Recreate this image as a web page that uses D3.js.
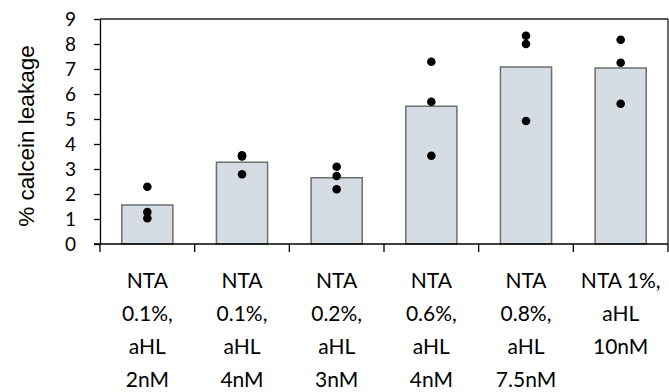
<!DOCTYPE html>
<html lang="en">
<head>
    <meta charset="UTF-8">
    <title>Calcein leakage</title>
    <style>
        body {
            margin: 0;
            background: #ffffff;
        }
        svg {
            display: block;
            background: #ffffff;
        }
        .tick-label {
            font-family: Lato, 'Open Sans', sans-serif;
            fill: #000;
        }
    </style>
</head>
<body>
    <svg width="669" height="392"></svg>
    <script src="https://d3js.org/d3.v7.min.js"></script>
    <script>
        // Data
        var categories = [
            "NTA\n0.1%,\naHL\n2nM",
            "NTA\n0.1%,\naHL\n4nM",
            "NTA\n0.2%,\naHL\n3nM",
            "NTA\n0.6%,\naHL\n4nM",
            "NTA\n0.8%,\naHL\n7.5nM",
            "NTA 1%,\naHL\n10nM"
        ];
        var barValues = [1.56, 3.27, 2.65, 5.51, 7.08, 7.04];
        var pointValues = [
            [2.29, 1.28, 1.03],
            [3.55, 3.5, 2.79],
            [3.09, 2.72, 2.19],
            [7.29, 5.69, 3.53],
            [8.33, 8.0, 4.92],
            [8.17, 7.25, 5.61]
        ];
        var yTicks = [0, 1, 2, 3, 4, 5, 6, 7, 8, 9];

        var svg = d3.select("svg"),
            margin = {top: 19, right: 1, bottom: 148, left: 100},
            width = +svg.attr("width") - margin.left - margin.right,
            height = +svg.attr("height") - margin.top - margin.bottom;

        var x = d3.scaleBand()
            .domain(d3.range(categories.length))
            .range([0, width])
            .paddingInner(0.46)
            .paddingOuter(0.23);

        var y = d3.scaleLinear().domain([0, 9]).range([height, 0]);

        var g = svg.append("g")
            .attr("transform", "translate(" + margin.left + "," + margin.top + ")");

        // plot border (top and right)
        g.append("line")
            .attr("x1", 0).attr("x2", width)
            .attr("y1", 0).attr("y2", 0)
            .attr("stroke", "#222").attr("stroke-width", 1.3);
        g.append("line")
            .attr("x1", width).attr("x2", width)
            .attr("y1", 0).attr("y2", height)
            .attr("stroke", "#222").attr("stroke-width", 1.3);

        // bars
        g.selectAll(".bar")
            .data(barValues)
            .enter().append("rect")
            .attr("class", "bar")
            .attr("x", function(d, i) { return x(i); })
            .attr("y", function(d) { return y(d); })
            .attr("width", x.bandwidth())
            .attr("height", function(d) { return height - y(d); })
            .attr("fill", "#d6dce4")
            .attr("stroke", "#6e6e6e")
            .attr("stroke-width", 1.5);

        // individual points
        pointValues.forEach(function(vals, i) {
            g.selectAll(".dot" + i)
                .data(vals)
                .enter().append("circle")
                .attr("cx", x(i) + x.bandwidth() / 2)
                .attr("cy", function(d) { return y(d); })
                .attr("r", 4.3)
                .attr("fill", "#000");
        });

        // y axis
        var yAxis = g.append("g")
            .call(d3.axisLeft(y).tickValues(yTicks).tickSize(6).tickPadding(18).tickSizeOuter(0));
        yAxis.select(".domain").attr("stroke", "#000").attr("stroke-width", 1.3);
        yAxis.selectAll(".tick line").attr("stroke", "#000").attr("stroke-width", 1.3);
        yAxis.selectAll(".tick text")
            .attr("class", "tick-label")
            .attr("font-size", "19px");

        // x axis, ticks sit between categories
        g.append("line")
            .attr("x1", -6).attr("x2", width)
            .attr("y1", height).attr("y2", height)
            .attr("stroke", "#000").attr("stroke-width", 1.3);

        var step = x.step();
        var bounds = d3.range(categories.length + 1).map(function(i) {
            return i < categories.length ? x(i) - step * x.paddingInner() / 2 : width;
        });
        g.selectAll(".xtick")
            .data(bounds)
            .enter().append("line")
            .attr("x1", function(d) { return d; })
            .attr("x2", function(d) { return d; })
            .attr("y1", height)
            .attr("y2", height + 8)
            .attr("stroke", "#000").attr("stroke-width", 1.3);

        // category labels
        var labels = g.selectAll(".xlabel")
            .data(categories)
            .enter().append("text")
            .attr("class", "tick-label")
            .attr("text-anchor", "middle")
            .attr("font-size", "21px")
            .attr("transform", function(d, i) {
                return "translate(" + (x(i) + x.bandwidth() / 2) + "," + (height + 44) + ")";
            });
        labels.selectAll("tspan")
            .data(function(d) { return d.split("\n"); })
            .enter().append("tspan")
            .attr("x", 0)
            .attr("y", function(d, j) { return j * 33; })
            .text(function(d) { return d; });

        // y axis title
        svg.append("text")
            .attr("transform", "translate(34,136) rotate(-90)")
            .attr("text-anchor", "middle")
            .attr("font-family", "'Liberation Sans', Arial, sans-serif")
            .attr("font-size", "22.5px")
            .attr("fill", "#000")
            .text("% calcein leakage");
    </script>
</body>
</html>
